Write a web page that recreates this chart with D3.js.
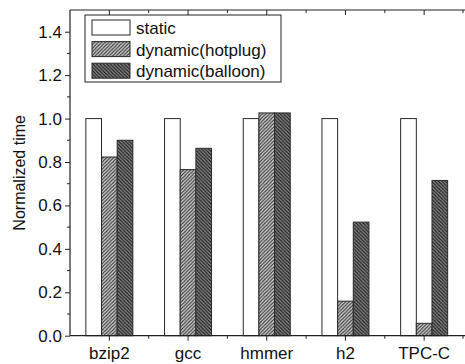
<!DOCTYPE html>
<html>
<head>
<meta charset="utf-8">
<script src="https://cdn.jsdelivr.net/npm/d3@7"></script>
<style>
  body { margin: 0; background: #fff; }
  svg { display: block; font-family: "Liberation Sans", Arial, sans-serif; }
  .axis path { display: none; }
  .axis line { stroke: #222; }
  .axis text { font-size: 17px; fill: #111; font-family: "Liberation Sans", Arial, sans-serif; }
</style>
</head>
<body>
<div id="chart"></div>
<script>
// data
const benchmarks = ["bzip2", "gcc", "hmmer", "h2", "TPC-C"];
const seriesNames = ["static", "dynamic(hotplug)", "dynamic(balloon)"];
const staticVals = [1.0, 1.0, 1.0, 1.0, 1.0];
const hotplugVals = [0.823, 0.765, 1.026, 0.159, 0.057];
const balloonVals = [0.90, 0.863, 1.026, 0.523, 0.715];
const yTicks = [0.0, 0.2, 0.4, 0.6, 0.8, 1.0, 1.2, 1.4];

const W = 465, H = 364;
const margin = { left: 70, right: 1.5, top: 10, bottom: 28.3 };
const plotRight = W - margin.right;
const plotBottom = H - margin.bottom;

const svg = d3.select("#chart").append("svg")
  .attr("width", W)
  .attr("height", H);

//--------------------------------------------------------------------------------------patterns
const defs = svg.append("defs");
let hatch = (id, bg, fg, dir, sw) => {
  let p = defs.append("pattern")
    .attr("id", id)
    .attr("patternUnits", "userSpaceOnUse")
    .attr("width", 3.5)
    .attr("height", 3.5);
  p.append("rect").attr("width", 3.5).attr("height", 3.5).attr("fill", bg);
  let d = dir === "/"
    ? "M-1,1 l2,-2 M0,3.5 l3.5,-3.5 M2.5,4.5 l2,-2"
    : "M-1,2.5 l2,2 M0,0 l3.5,3.5 M2.5,-1 l2,2";
  p.append("path").attr("d", d).attr("stroke", fg).attr("stroke-width", sw);
};
hatch("hotplug", "#d8d8d8", "#333", "/", 1.1);
hatch("balloon", "#8a8a8a", "#1e1e1e", "\\", 1.2);
const fills = ["#fff", "url(#hotplug)", "url(#balloon)"];

//--------------------------------------------------------------------------------------scales
const x = d3.scaleBand()
  .domain(benchmarks)
  .range([margin.left, plotRight]);

const groupW = 47;
const xs = d3.scaleBand()
  .domain(seriesNames)
  .range([0, groupW]);

const y = d3.scaleLinear()
  .domain([0, 1.5])
  .range([plotBottom, margin.top]);

//--------------------------------------------------------------------------------------bars
const rows = benchmarks.map((b, i) => ({
  name: b,
  vals: [staticVals[i], hotplugVals[i], balloonVals[i]]
}));

const groups = svg.selectAll("g.grp")
  .data(rows)
  .enter().append("g")
  .attr("class", "grp")
  .attr("transform", d => "translate(" + (x(d.name) + (x.bandwidth() - groupW) / 2) + ",0)");

groups.selectAll("rect")
  .data(d => d.vals.map((v, k) => ({ s: seriesNames[k], v: v, k: k })))
  .enter().append("rect")
  .attr("x", d => xs(d.s))
  .attr("y", d => y(d.v))
  .attr("width", xs.bandwidth())
  .attr("height", d => plotBottom - y(d.v))
  .attr("fill", d => fills[d.k])
  .attr("stroke", "#2a2a2a")
  .attr("stroke-width", 1);

//--------------------------------------------------------------------------------------axes
const yAxis = d3.axisLeft(y)
  .tickValues(yTicks)
  .tickFormat(d3.format(".1f"))
  .tickSize(5)
  .tickPadding(3);

svg.append("g")
  .attr("class", "axis y")
  .attr("transform", "translate(" + margin.left + ",0)")
  .call(yAxis);

// minor y ticks
svg.append("g")
  .selectAll("line")
  .data(d3.range(0.1, 1.5, 0.2))
  .enter().append("line")
  .attr("x1", margin.left - 3)
  .attr("x2", margin.left)
  .attr("y1", d => y(d))
  .attr("y2", d => y(d))
  .attr("stroke", "#222");

const xAxis = d3.axisBottom(x).tickSize(5).tickPadding(6);
svg.append("g")
  .attr("class", "axis x")
  .attr("transform", "translate(0," + plotBottom + ")")
  .call(xAxis);

const xTop = d3.axisTop(x).tickSize(-5).tickFormat("");
svg.append("g")
  .attr("class", "axis xtop")
  .attr("transform", "translate(0," + margin.top + ")")
  .call(xTop);

// minor x ticks at band edges
const edges = benchmarks.slice(1).map(b => x(b)).concat([plotRight - 0.5]);
svg.append("g")
  .selectAll("line")
  .data(edges)
  .enter().append("line")
  .attr("x1", d => d).attr("x2", d => d)
  .attr("y1", plotBottom).attr("y2", plotBottom + 3)
  .attr("stroke", "#222");
svg.append("g")
  .selectAll("line")
  .data(edges)
  .enter().append("line")
  .attr("x1", d => d).attr("x2", d => d)
  .attr("y1", margin.top).attr("y2", margin.top + 3)
  .attr("stroke", "#222");

// frame lines
svg.append("line")
  .attr("x1", margin.left).attr("x2", margin.left)
  .attr("y1", margin.top).attr("y2", plotBottom)
  .attr("stroke", "#222").attr("stroke-width", 1.2);
svg.append("line")
  .attr("x1", margin.left).attr("x2", W)
  .attr("y1", plotBottom).attr("y2", plotBottom)
  .attr("stroke", "#222").attr("stroke-width", 1.2);
svg.append("line")
  .attr("x1", margin.left).attr("x2", W)
  .attr("y1", margin.top).attr("y2", margin.top)
  .attr("stroke", "#222").attr("stroke-width", 1.2);

//--------------------------------------------------------------------------------------labels
svg.append("text")
  .attr("transform", "translate(25," + ((margin.top + plotBottom) / 2) + ") rotate(-90)")
  .attr("text-anchor", "middle")
  .attr("font-size", 16)
  .attr("fill", "#111")
  .text("Normalized time");

//--------------------------------------------------------------------------------------legend
const lg = svg.append("g").attr("transform", "translate(85,15)");
lg.append("rect")
  .attr("width", 196)
  .attr("height", 67)
  .attr("fill", "#fff")
  .attr("stroke", "#222");

const li = lg.selectAll("g.li")
  .data(seriesNames)
  .enter().append("g")
  .attr("class", "li")
  .attr("transform", (d, i) => "translate(7," + (5 + i * 21.6) + ")");
li.append("rect")
  .attr("width", 38)
  .attr("height", 15)
  .attr("fill", (d, i) => fills[i])
  .attr("stroke", "#2a2a2a");
li.append("text")
  .attr("x", 44)
  .attr("y", 14)
  .attr("font-size", 17)
  .attr("fill", "#111")
  .text(d => d);
</script>
</body>
</html>
